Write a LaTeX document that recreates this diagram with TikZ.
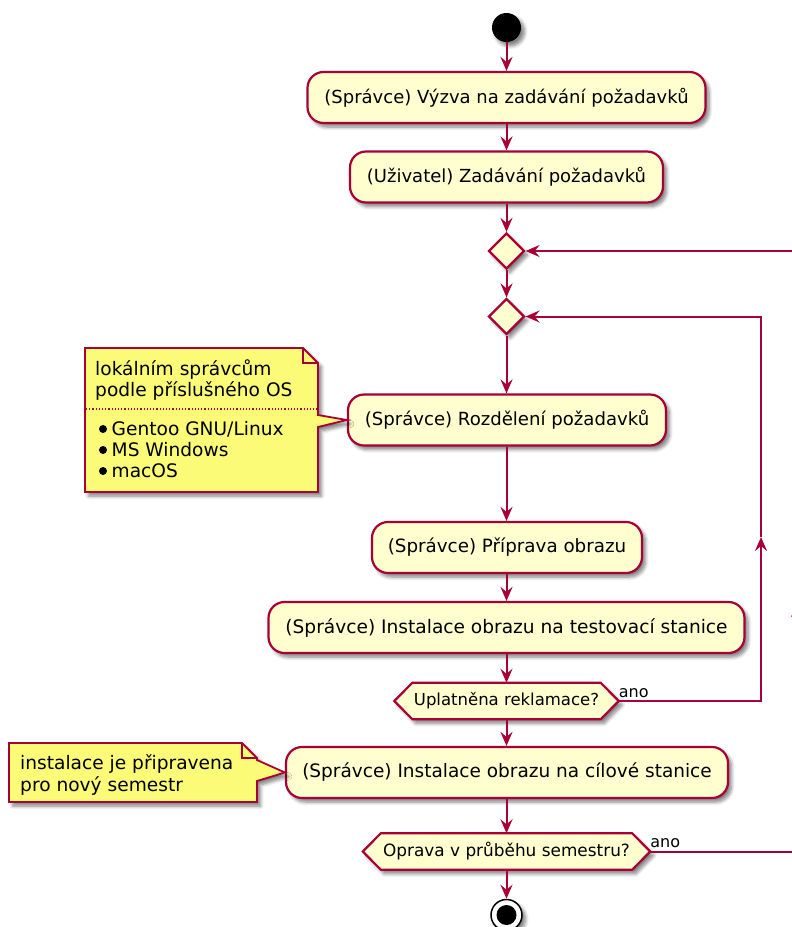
\documentclass[tikz,border=0pt]{standalone}
\usepackage{fontspec}
\setmainfont{DejaVu Sans}
\usetikzlibrary{arrows.meta,shadows,shadows.blur,calc,shapes.geometric}
\definecolor{pborder}{HTML}{A80036}
\definecolor{pfill}{HTML}{FEFECE}
\definecolor{nfill}{HTML}{FBFB77}
\begin{document}
\begin{tikzpicture}[x=1pt,y=-1pt,
  shad/.style={blur shadow={shadow xshift=3.5pt,shadow yshift=-4pt,shadow blur radius=3.5pt,shadow blur steps=6,shadow opacity=50}},
  act/.style={draw=pborder,fill=pfill,line width=2.2pt,rounded corners=16pt,minimum height=51pt,inner sep=0pt,shad},
  dec/.style={draw=pborder,fill=pfill,line width=2.2pt,diamond,minimum width=36pt,minimum height=36pt,inner sep=0pt,shad},
  hexbox/.style={inner sep=0pt,minimum height=36pt},
  hexdraw/.style={draw=pborder,fill=pfill,line width=2.2pt,shad},
  flow/.style={draw=pborder,line width=2pt,-{Stealth[length=14pt,width=12pt,inset=5pt]}},
  notedraw/.style={draw=pborder,fill=nfill,line width=1.8pt,shad},
  notetext/.style={inner sep=0pt,anchor=base west,font=\fontsize{18.6}{21}\selectfont},
  lbl/.style={inner sep=0pt,anchor=base west,font=\fontsize{16}{19}\selectfont}
]
\useasboundingbox (0,0) rectangle (792,927);
\clip (0,0) rectangle (792,927);

% start
\node[circle,fill=black,minimum size=29pt,inner sep=0pt,shad] (start) at (506.5,27.5) {};

% activities
\node[act,minimum width=398pt,font=\fontsize{18}{22}\selectfont] (b1) at (506.5,97.5) {(Správce) Výzva na zadávání požadavků};
\node[act,minimum width=313pt,font=\fontsize{18}{22}\selectfont] (b2) at (506.5,177) {(Uživatel) Zadávání požadavků};
\node[dec] (d1) at (506.5,251) {};
\node[dec] (d2) at (506.5,316.5) {};
\node[act,minimum width=318pt,font=\fontsize{18.1}{22}\selectfont] (b3) at (507,420) {(Správce) Rozdělení požadavků};
\node[act,minimum width=270pt,font=\fontsize{18.3}{22}\selectfont] (b4) at (507,547.5) {(Správce) Příprava obrazu};
\node[act,minimum width=476pt,font=\fontsize{18.6}{22}\selectfont] (b5) at (506.5,627.5) {(Správce) Instalace obrazu na testovací stanice};
\node[act,minimum width=442pt,font=\fontsize{18.5}{22}\selectfont] (b6) at (507,772.5) {(Správce) Instalace obrazu na cílové stanice};

% decisions (hexagons)
\node[hexbox,minimum width=188pt] (h1) at (506.5,701) {};
\node[hexbox,minimum width=251pt] (h2) at (506.5,851.5) {};
\coordinate (h1r) at ($(h1.east)+(18,0)$);
\coordinate (h1l) at ($(h1.west)+(-18,0)$);
\coordinate (h2r) at ($(h2.east)+(18,0)$);
\coordinate (h2l) at ($(h2.west)+(-18,0)$);
\path[hexdraw] (h1.north west) -- (h1.north east) -- (h1r) -- (h1.south east) -- (h1.south west) -- (h1l) -- cycle;
\path[hexdraw] (h2.north west) -- (h2.north east) -- (h2r) -- (h2.south east) -- (h2.south west) -- (h2l) -- cycle;
\node[inner sep=0pt,font=\fontsize{16.5}{19}\selectfont] (h1t) at (h1.center) {Uplatněna reklamace?};
\node[inner sep=0pt,font=\fontsize{16.9}{19}\selectfont] (h2t) at (h2.center) {Oprava v průběhu semestru?};

% stop
\node[circle,draw=black,fill=white,line width=1.5pt,minimum size=31pt,inner sep=0pt,shad] (stop) at (506.5,915) {};
\node[circle,fill=black,minimum size=20pt,inner sep=0pt] (stopin) at (stop.center) {};

% main flow
\draw[flow] (start) -- (b1);
\draw[flow] (b1) -- (b2);
\draw[flow] (b2) -- (d1);
\draw[flow] (d1) -- (d2);
\draw[flow] (d2) -- (d2 |- b3.north);
\draw[flow] (b3.south -| d2) -- (d2 |- b4.north);
\draw[flow] (b4.south -| d2) -- (d2 |- b5.north);
\draw[flow] (b5) -- (h1);
\draw[flow] (h1) -- (h1 |- b6.north);
\draw[flow] (b6.south -| h2) -- (h2);
\draw[flow] (h2) -- (stop);

% inner loop
\coordinate (i2) at (761,537);
\draw[flow] (h1r) -- (h1r -| i2) -- (i2);
\draw[flow] (i2) -- (i2 |- d2.east) -- (d2.east);
\node[lbl] (ano1) at ($(h1r)+(0,-4)$) {ano};

% outer loop
\coordinate (o2) at (797,603);
\draw[flow] (h2r) -- (h2r -| o2) -- (o2);
\draw[flow] (o2) -- (o2 |- d1.east) -- (d1.east);
\node[lbl] (ano2) at ($(h2r)+(0,-4)$) {ano};

% note 1
\path[notedraw] (85,348) -- (303,348) -- (318,363) -- (318,415) -- (b3.west) -- (318,427) -- (318,492) -- (85,492) -- cycle;
\draw[pborder,line width=1.8pt] (303,348) -- (303,363) -- (318,363);
\draw[pborder,line width=1.2pt,dotted] (86,409) -- (317,409);
\node[notetext] (n1a) at (95,375) {lokálním správcům};
\node[notetext] (n1b) at (95,396) {podle příslušného OS};
\fill[black] (103,429) circle (4);
\fill[black] (103,450) circle (4);
\fill[black] (103,471) circle (4);
\node[notetext] (n1c) at (111.5,435) {Gentoo GNU/Linux};
\node[notetext] (n1d) at (111.5,456) {MS Windows};
\node[notetext] (n1e) at (111.5,477) {macOS};

% note 2
\path[notedraw] (9,743) -- (242,743) -- (257,758) -- (257,760) -- (b6.west) -- (257,781) -- (257,802) -- (9,802) -- cycle;
\draw[pborder,line width=1.8pt] (242,743) -- (242,758) -- (257,758);
\node[notetext] (n2a) at (20,769) {instalace je připravena};
\node[notetext] (n2b) at (20,791) {pro nový semestr};
\end{tikzpicture}
\end{document}
